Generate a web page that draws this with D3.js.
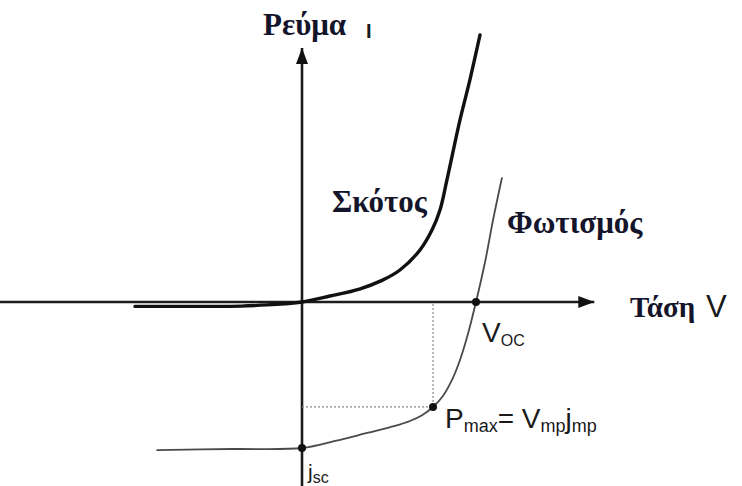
<!DOCTYPE html>
<html>
<head>
<meta charset="utf-8">
<script src="https://cdn.jsdelivr.net/npm/d3@7"></script>
<style>
  html, body { margin: 0; padding: 0; background: #fff; }
  svg { display: block; }
  .greek { font-family: "Liberation Serif", "Times New Roman", serif; font-weight: bold; fill: #14142a; }
  .sym { font-family: "Liberation Sans", Arial, sans-serif; fill: #1a1a1a; }
</style>
</head>
<body>
<svg id="chart" width="742" height="486"></svg>
<script>
// Current–voltage characteristic of a solar cell, in normalised units:
// voltage in units of V_oc, current in units of j_sc.

// Dark curve (no illumination): diode characteristic
const darkV = [-0.96, -0.75, -0.55, -0.35, -0.2, -0.1, 0, 0.16, 0.33, 0.46, 0.563, 0.678, 0.747, 0.793, 0.833, 0.908, 0.966, 1.023];
const darkI = [-0.03, -0.03, -0.03, -0.028, -0.02, -0.012, 0, 0.041, 0.089, 0.148, 0.219, 0.356, 0.493, 0.63, 0.836, 1.247, 1.527, 1.829];

// Illuminated curve: shifted down by the short-circuit current
const lightV = [-0.833, -0.4, 0, 0.19, 0.374, 0.534, 0.62, 0.69, 0.753, 0.81, 0.862, 0.91, 0.95, 1.0, 1.052, 1.098, 1.149];
const lightI = [-1.014, -1.007, -1.0, -0.952, -0.897, -0.849, -0.815, -0.775, -0.719, -0.644, -0.534, -0.39, -0.235, 0, 0.274, 0.562, 0.849];

// Marked operating points
const pointNames = ["jsc", "Pmax", "Voc"];
const pointV = [0, 0.753, 1.0];
const pointI = [-1.0, -0.719, 0];

// Extent of the drawn axes
const axisV = [-1.74, 1.68];
const axisI = [-1.26, 1.74];

// Text labels
const titleY = "Ρεύμα";
const titleYSym = "I";
const titleX = "Τάση";
const titleXSym = "V";
const darkLabel = "Σκότος";
const lightLabel = "Φωτισμός";

const svg = d3.select("#chart");

const x = d3.scaleLinear().domain([-1, 1]).range([128, 476]);
const y = d3.scaleLinear().domain([-1, 1]).range([448, 156]);

// arrowheads
const defs = svg.append("defs");
defs.append("marker")
  .attr("id", "arrow")
  .attr("viewBox", "0 0 16 12")
  .attr("refX", 16).attr("refY", 6)
  .attr("markerUnits", "userSpaceOnUse")
  .attr("markerWidth", 17).attr("markerHeight", 12)
  .attr("orient", "auto")
  .append("path")
  .attr("d", "M0,0 L16,6 L0,12 Z")
  .attr("fill", "#111");

// axes
svg.append("line")
  .attr("x1", x(axisV[0])).attr("y1", y(0))
  .attr("x2", x(axisV[1])).attr("y2", y(0))
  .attr("stroke", "#1c1c1c").attr("stroke-width", 2.6)
  .attr("marker-end", "url(#arrow)");
svg.append("line")
  .attr("x1", x(0)).attr("y1", y(axisI[0]))
  .attr("x2", x(0)).attr("y2", y(axisI[1]))
  .attr("stroke", "#1c1c1c").attr("stroke-width", 2.6)
  .attr("marker-end", "url(#arrow)");

// dotted guides to the maximum power point
const pm = pointNames.indexOf("Pmax");
svg.append("path")
  .attr("d", `M${x(0)},${y(pointI[pm])} H${x(pointV[pm])} V${y(0)}`)
  .attr("fill", "none")
  .attr("stroke", "#8a8a8a").attr("stroke-width", 1.2)
  .attr("stroke-dasharray", "2,2");

const line = d3.line()
  .x(d => x(d[0]))
  .y(d => y(d[1]))
  .curve(d3.curveCatmullRom.alpha(0.5));

// dark curve
svg.append("path")
  .datum(darkV.map((v, i) => [v, darkI[i]]))
  .attr("d", line)
  .attr("fill", "none")
  .attr("stroke", "#111")
  .attr("stroke-width", 3.4)
  .attr("stroke-linecap", "round");

// illuminated curve
svg.append("path")
  .datum(lightV.map((v, i) => [v, lightI[i]]))
  .attr("d", line)
  .attr("fill", "none")
  .attr("stroke", "#4a4a4a")
  .attr("stroke-width", 1.8)
  .attr("stroke-linecap", "round");

// operating points
svg.selectAll("circle.pt")
  .data(pointV.map((v, i) => [v, pointI[i]]))
  .join("circle")
  .attr("class", "pt")
  .attr("cx", d => x(d[0]))
  .attr("cy", d => y(d[1]))
  .attr("r", 4)
  .attr("fill", "#111");

// axis titles
svg.append("text").attr("class", "greek")
  .attr("x", 263).attr("y", 35).attr("font-size", 31).text(titleY);
svg.append("text").attr("class", "sym")
  .attr("x", 366).attr("y", 38).attr("font-size", 20).attr("font-weight", "bold").text(titleYSym);
svg.append("text").attr("class", "greek")
  .attr("x", 630).attr("y", 317).attr("font-size", 29).text(titleX);
svg.append("text").attr("class", "sym")
  .attr("x", 706).attr("y", 317).attr("font-size", 31).text(titleXSym);

// curve labels
svg.append("text").attr("class", "greek")
  .attr("x", 332).attr("y", 212).attr("font-size", 31).text(darkLabel);
svg.append("text").attr("class", "greek")
  .attr("x", 507).attr("y", 233).attr("font-size", 31).text(lightLabel);

// point labels with subscripts
function subLabel(px, py, parts, size, subSize, shift) {
  const t = svg.append("text").attr("class", "sym")
    .attr("x", px).attr("y", py).attr("font-size", size);
  let down = false;
  parts.forEach(p => {
    const dy = p.sub ? (down ? 0 : shift) : (down ? -shift : 0);
    down = !!p.sub;
    t.append("tspan")
      .attr("font-size", p.sub ? subSize : size)
      .attr("dy", dy)
      .text(p.t);
  });
  return t;
}

const voc = pointNames.indexOf("Voc");
subLabel(x(pointV[voc]) + 6, y(pointI[voc]) + 40, [
  { t: "V" }, { t: "OC", sub: true }
], 28, 16, 4);

subLabel(x(pointV[pm]) + 12, y(pointI[pm]) + 21, [
  { t: "P" }, { t: "max", sub: true },
  { t: "= V" }, { t: "mp", sub: true },
  { t: "j" }, { t: "mp", sub: true }
], 28, 18, 4);

const js = pointNames.indexOf("jsc");
subLabel(x(pointV[js]) + 6, y(pointI[js]) + 31, [
  { t: "j" }, { t: "sc", sub: true }
], 21, 16, 4);
</script>
</body>
</html>
